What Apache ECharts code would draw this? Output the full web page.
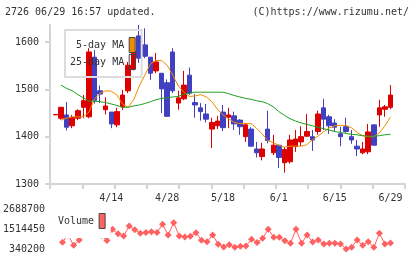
<!DOCTYPE html>
<html>
<head>
<meta charset="utf-8">
<script src="https://cdn.jsdelivr.net/npm/echarts@6/dist/echarts.min.js"></script>
<style>
html, body { margin: 0; padding: 0; background: #fff; }
#chart { width: 420px; height: 259px; }
</style>
</head>
<body>
<div id="chart"></div>
<script>
// trading days, 3/31 .. 6/29
var dates = ['3/31','4/1','4/2','4/3','4/6','4/7','4/8','4/9','4/10','4/13',
    '4/14','4/15','4/16','4/17','4/20','4/21','4/22','4/23','4/24','4/27',
    '4/28','4/30','5/1','5/7','5/8','5/11','5/12','5/13','5/14','5/15',
    '5/18','5/19','5/20','5/21','5/22','5/25','5/26','5/27','5/28','5/29',
    '6/1','6/2','6/3','6/4','6/5','6/8','6/9','6/10','6/11','6/12',
    '6/15','6/16','6/17','6/18','6/19','6/22','6/23','6/24','6/25','6/26',
    '6/29'];

// [open, close, low, high]
var candles = [
    [1446,1447,1446,1447],[1439,1462,1436,1463],[1446,1420,1413,1473],[1423,1441,1418,1446],
    [1439,1455,1435,1458],[1462,1476,1439,1488],[1442,1579,1439,1587],[1568,1477,1470,1583],
    [1497,1490,1471,1508],[1457,1465,1447,1483],[1452,1427,1418,1452],[1425,1453,1420,1461],
    [1463,1488,1456,1499],[1497,1551,1492,1558],[1543,1580,1540,1600],[1613,1566,1556,1636],
    [1594,1570,1566,1629],[1568,1534,1520,1568],[1539,1558,1534,1577],[1534,1501,1450,1534],
    [1514,1443,1443,1521],[1579,1497,1492,1587],[1471,1482,1457,1497],[1480,1509,1477,1539],
    [1530,1492,1488,1546],[1472,1467,1440,1490],[1461,1453,1434,1471],[1448,1437,1430,1469],
    [1416,1430,1376,1440],[1423,1433,1416,1444],[1452,1419,1412,1467],[1441,1446,1418,1461],
    [1444,1427,1414,1453],[1435,1421,1404,1437],[1400,1425,1389,1429],[1416,1380,1379,1420],
    [1374,1366,1356,1389],[1358,1374,1350,1387],[1416,1392,1386,1455],[1366,1382,1361,1404],
    [1382,1356,1334,1382],[1345,1373,1324,1378],[1347,1393,1343,1404],[1379,1395,1368,1414],
    [1389,1400,1380,1422],[1401,1411,1400,1448],[1400,1393,1370,1414],[1411,1448,1404,1455],
    [1461,1437,1414,1480],[1442,1423,1406,1446],[1429,1420,1411,1437],[1406,1400,1380,1421],
    [1421,1411,1408,1440],[1400,1393,1385,1414],[1380,1374,1359,1393],[1366,1374,1363,1389],
    [1368,1410,1363,1427],[1425,1382,1382,1425],[1446,1461,1421,1478],[1458,1463,1442,1467],
    [1462,1488,1458,1509]
];

var ma5 = [null,1435,1439,1442,1442,1442,1452,1480,1492,1497,1496,1488,1469,1462,1478,1507,
    1530,1554,1561,1561,1551,1530,1507,1494,1485,1486,1489,1484,1474,1458,1446,1438,
    1430,1428,1428,1428,1418,1406,1392,1387,1382,1378,1380,1380,1380,1383,1393,1401,
    1410,1418,1423,1424,1424,1419,1409,1402,1400,1400,1408,1423,1442];

var ma25 = [null,1509,1502,1497,1489,1482,1475,1475,1474,1472,1469,1466,1462,1462,1465,1467,
    1470,1474,1478,1481,1482,1484,1485,1490,1492,1494,1494,1494,1494,1494,1494,1491,
    1487,1484,1481,1479,1476,1474,1470,1463,1453,1445,1438,1433,1429,1426,1423,1420,
    1417,1414,1411,1409,1407,1405,1404,1402,1401,1401,1402,1404,1405];

var volume = [null,733600,1162000,557400,868600,1350000,2688700,2050000,1133000,839000,
    1497000,1233000,1103500,1690600,1473400,1262000,1309000,1356000,1309000,1790400,
    1162200,1884300,1103500,1044800,1085900,1297200,851000,768800,1162200,622000,
    457600,592700,440000,498700,516300,909700,721800,968400,1496800,1027100,
    1027100,821600,674900,1496800,674900,1162200,751200,868600,633800,674900,
    674900,633800,340200,440000,868600,557400,768800,440000,1262000,633800,692500];

var priceTicks = [1300, 1400, 1500, 1600];
var volumeTicks = [340200, 1514450, 2688700];

var mono = '"DejaVu Sans Mono", "Liberation Mono", monospace';
var axisGray = '#d4d4d4';
var plain = function (v) { return String(v); };

var chart = echarts.init(document.getElementById('chart'));

var option = {
    animation: false,
    backgroundColor: '#fff',
    graphic: [
        { type: 'text', left: 5, top: 7, style: { text: '2726 06/29 16:57 updated.', font: '10px ' + mono, fill: '#333' } },
        { type: 'text', right: 11, top: 7, style: { text: '(C)https://www.rizumu.net/', font: '10px ' + mono, fill: '#333' } }
    ],
    legend: [
        {
            data: ['5-day MA', { name: '25-day MA', itemStyle: { color: 'rgba(0,0,0,0)' } }],
            left: 65, top: 30,
            orient: 'vertical', align: 'right',
            icon: 'rect', itemWidth: 6, itemHeight: 15, itemGap: 1,
            padding: [7, 6, 7, 5],
            borderColor: '#dcdcdc', borderWidth: 2,
            itemStyle: { borderColor: '#444', borderWidth: 1 },
            formatter: function (name) { return name.length < 9 ? ' ' + name : name; },
            textStyle: { fontFamily: mono, fontSize: 10, color: '#333' }
        },
        {
            // white box hides the volume points behind it, as in the source image
            data: ['Volume'],
            left: 52, top: 203,
            align: 'right',
            icon: 'rect', itemWidth: 6, itemHeight: 15,
            padding: [10, 5, 9, 6],
            backgroundColor: '#fff',
            itemStyle: { borderColor: '#444', borderWidth: 1 },
            textStyle: { fontFamily: mono, fontSize: 10, color: '#333' }
        }
    ],
    grid: [
        { left: 50, top: 25, width: 355, height: 159 },
        { left: 52.7, top: 25, width: 340.6, height: 159 },
        { left: 52.7, top: 209, width: 340.6, height: 40 }
    ],
    xAxis: [
        {
            gridIndex: 0, type: 'value', min: 0, max: 11, interval: 1,
            axisLine: { lineStyle: { color: axisGray, width: 2 } },
            axisTick: { length: 5, lineStyle: { color: axisGray, width: 2 } },
            axisLabel: { show: false },
            splitLine: { show: false }
        },
        {
            gridIndex: 1, type: 'category', data: dates, boundaryGap: true,
            axisLine: { show: false }, axisTick: { show: false },
            axisLabel: {
                interval: function (i) { return i > 0 && i % 10 === 0; },
                margin: 9, color: '#333', fontFamily: mono, fontSize: 10
            }
        },
        { gridIndex: 2, type: 'category', data: dates, boundaryGap: true, show: false }
    ],
    yAxis: [
        {
            gridIndex: 0, type: 'value', min: 1300, max: 1636, interval: 100,
            axisLine: { show: true, lineStyle: { color: axisGray, width: 2 } },
            axisTick: { show: true, length: 5, customValues: priceTicks, lineStyle: { color: axisGray, width: 2 } },
            axisLabel: { customValues: priceTicks, formatter: plain, margin: 11, color: '#333', fontFamily: mono, fontSize: 10 },
            splitLine: { show: false }
        },
        { gridIndex: 1, type: 'value', min: 1300, max: 1636, show: false },
        {
            gridIndex: 2, type: 'value', min: 340200, max: 2688700,
            axisLine: { show: false }, axisTick: { show: false },
            axisLabel: { customValues: volumeTicks, formatter: plain, margin: 9, color: '#333', fontFamily: mono, fontSize: 10 },
            splitLine: { show: false }
        }
    ],
    series: [
        {
            type: 'candlestick', xAxisIndex: 1, yAxisIndex: 1,
            data: candles, barWidth: 5,
            itemStyle: {
                color: '#dd0000', color0: '#4040c0',
                borderColor: '#dd0000', borderColor0: '#4040c0', borderWidth: 1
            }
        },
        {
            name: '5-day MA', type: 'line', xAxisIndex: 1, yAxisIndex: 1,
            data: ma5, symbol: 'none',
            lineStyle: { width: 1, color: '#f08c00' }, itemStyle: { color: '#f08c00' }
        },
        {
            name: '25-day MA', type: 'line', xAxisIndex: 1, yAxisIndex: 1,
            data: ma25, symbol: 'none',
            lineStyle: { width: 1, color: '#1ea01e' }, itemStyle: { color: '#1ea01e' }
        },
        {
            name: 'Volume', type: 'line', xAxisIndex: 2, yAxisIndex: 2,
            data: volume, symbol: 'diamond', symbolSize: 7, showAllSymbol: true, clip: false,
            lineStyle: { width: 1, color: '#ff6060' }, itemStyle: { color: '#ff6060' }
        }
    ]
};

chart.setOption(option);
</script>
</body>
</html>
